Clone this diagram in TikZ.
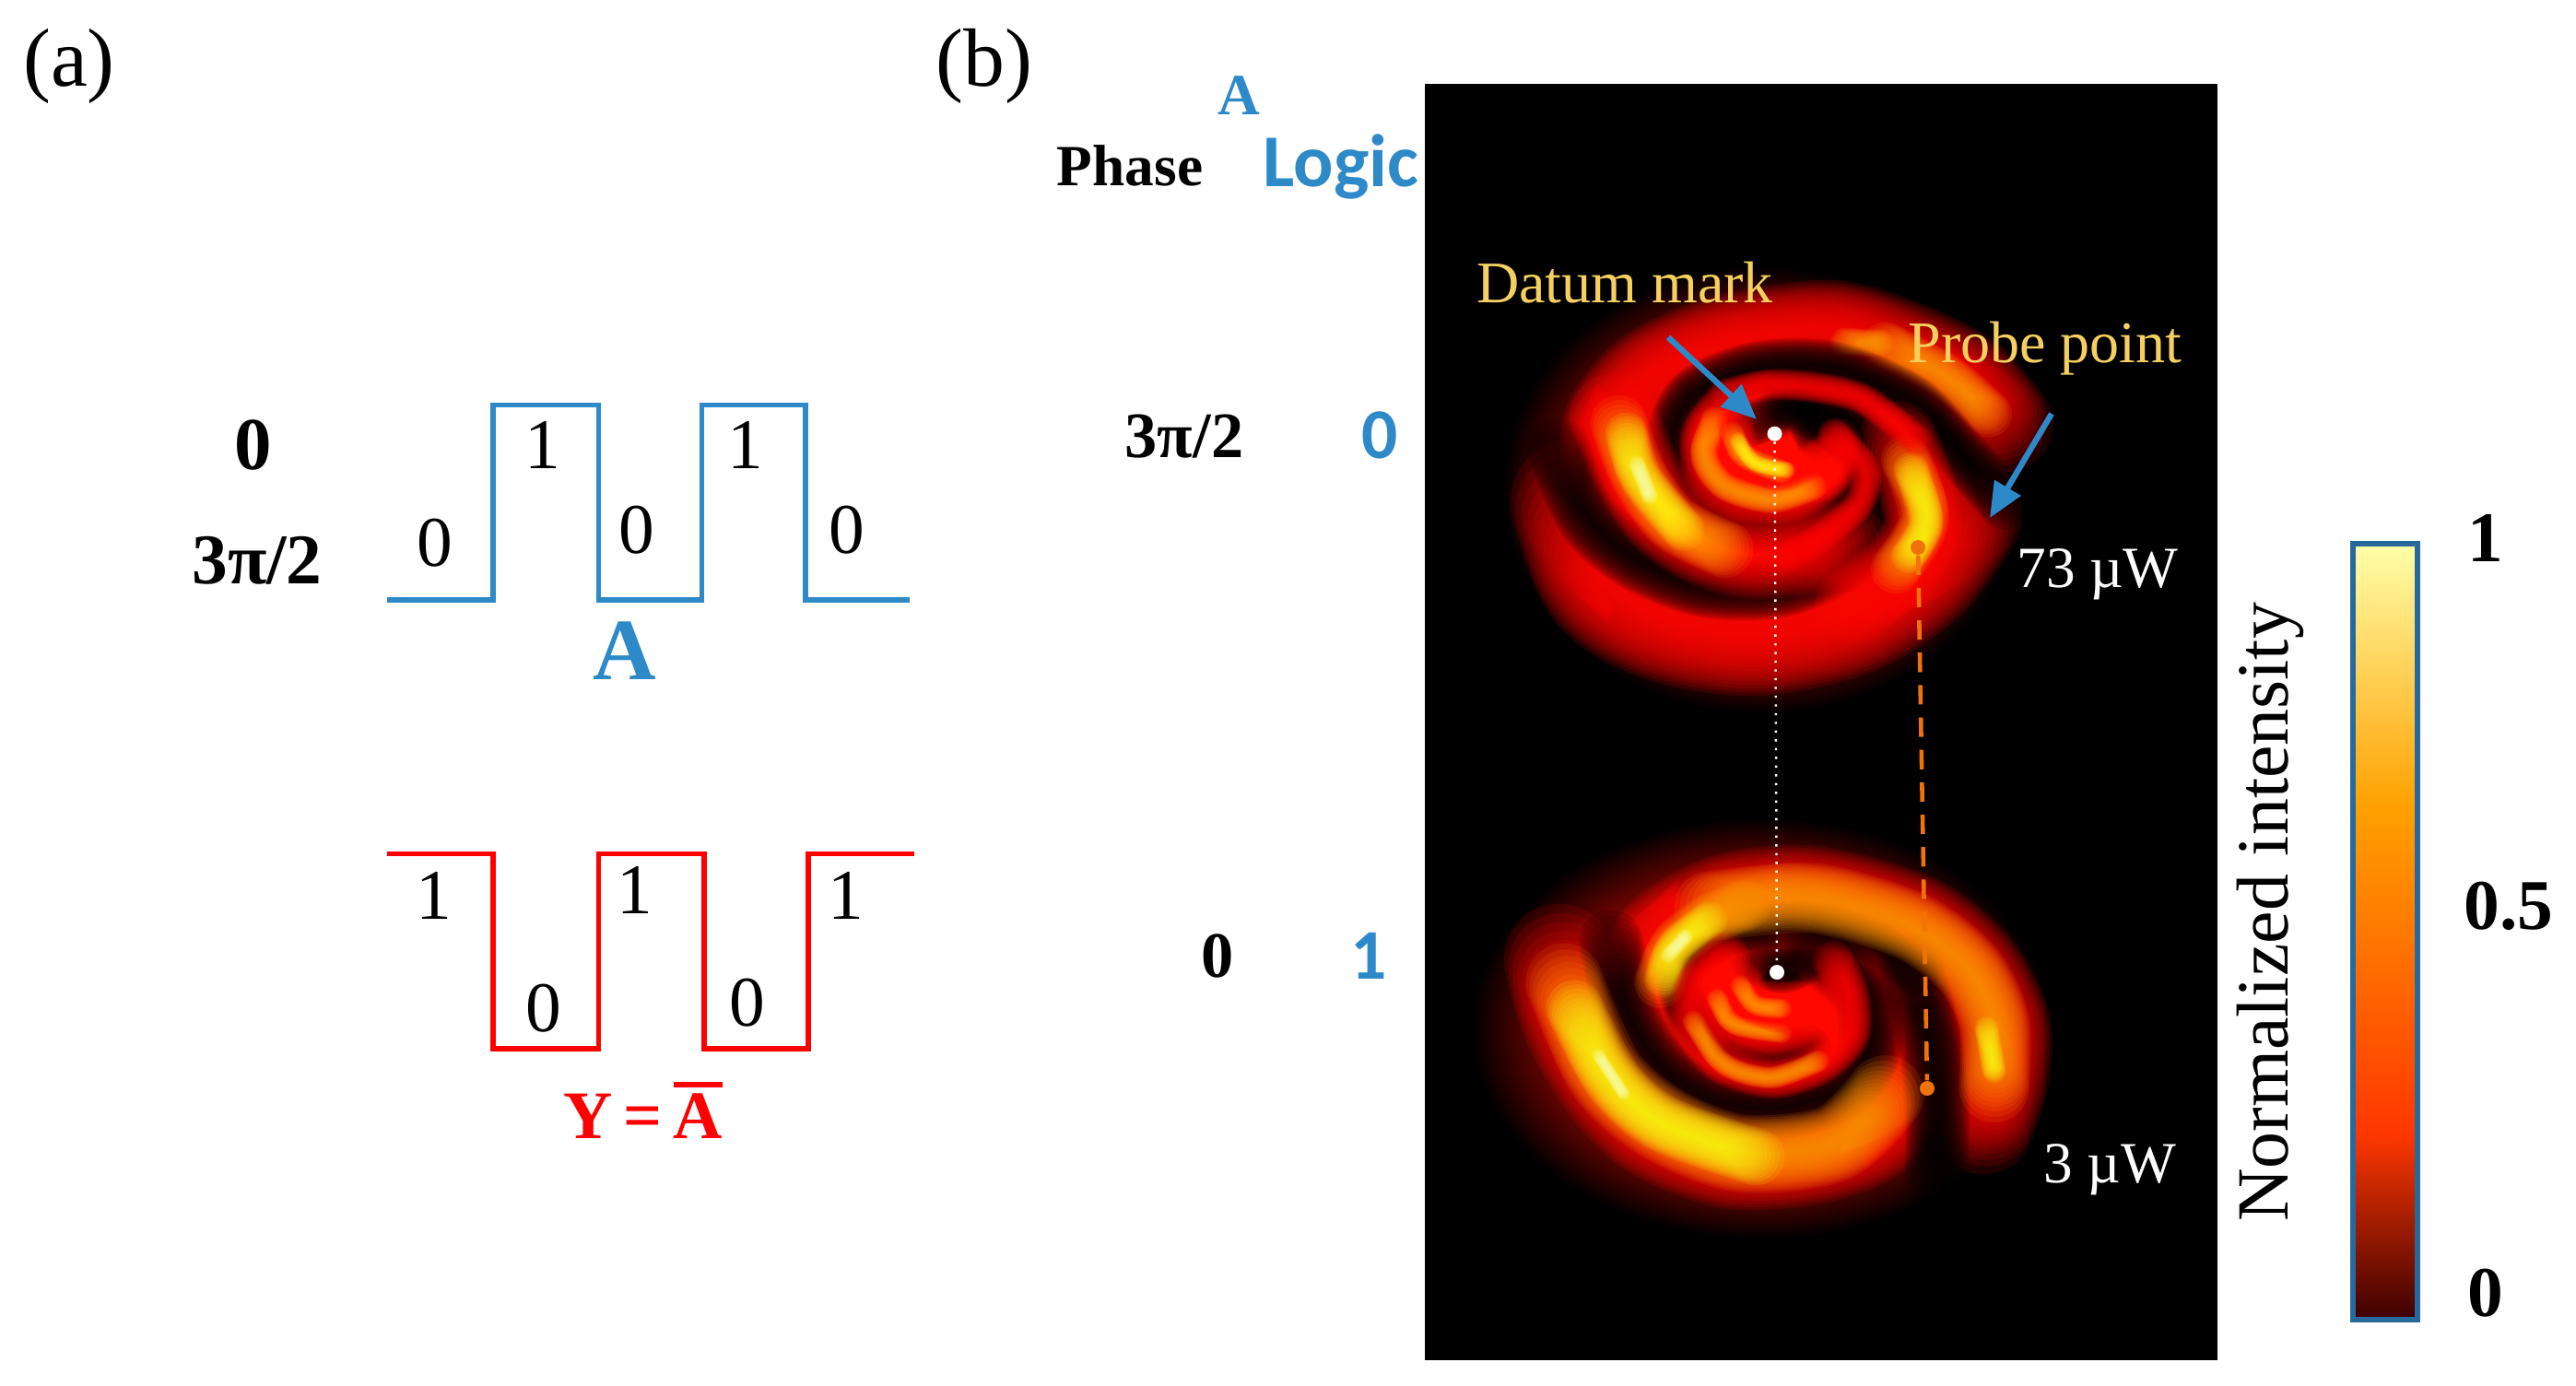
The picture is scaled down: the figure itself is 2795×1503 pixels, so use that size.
\documentclass[tikz,border=0pt]{standalone}
\usepackage{fontspec}
\setmainfont{Liberation Serif}
\newfontfamily\logicfont{Carlito}
\usetikzlibrary{arrows.meta, positioning}
\definecolor{logicblue}{RGB}{46,137,201}
\definecolor{barblue}{RGB}{40,105,155}
\definecolor{labelgold}{RGB}{245,208,96}
\definecolor{probeorange}{RGB}{240,115,10}
\definecolor{heatred}{RGB}{255,8,0}
\definecolor{heatorange}{RGB}{255,150,0}
\definecolor{heatyellow}{RGB}{255,245,20}
\definecolor{heatpale}{RGB}{255,255,170}
\definecolor{heatbase}{RGB}{60,0,0}
\definecolor{heatmid}{RGB}{255,55,0}
\definecolor{heatup}{RGB}{255,160,0}
\pgfdeclareverticalshading{heatbar}{100bp}{color(0bp)=(heatbase); color(25bp)=(heatbase); color(37bp)=(heatmid); color(58bp)=(heatup); color(75bp)=(heatpale); color(100bp)=(heatpale)}
\pgfdeclareradialshading{halo}{\pgfpoint{0bp}{0bp}}{color(0bp)=(heatred); color(10bp)=(heatred); color(25bp)=(black); color(50bp)=(black)}
% soft band: stacked see-through strokes, shorter as they get narrower
\newcommand{\glow}[3]{%
  \foreach \k in {1,...,18}{%
    \draw[#1, line width={(19-\k)/18*#2*0.2845pt}, opacity=0.12, line cap=round, line join=round,
      shorten <={(\k-1)/18*#2*0.2845pt}, shorten >={(\k-1)/18*#2*0.2845pt}] plot[smooth] coordinates {#3};}}
\tikzset{
  panel/.style={inner sep=0pt, font=\fontsize{25.5}{28}\selectfont},
  level/.style={inner sep=0pt, font=\fontsize{22}{26}\selectfont},
  phase/.style={inner sep=0pt, font=\bfseries\fontsize{20}{24}\selectfont},
  logic/.style={inner sep=0pt, text=logicblue, font=\logicfont\bfseries\fontsize{22}{26}\selectfont},
  note/.style={inner sep=0pt, text=labelgold, font=\fontsize{18.2}{22}\selectfont},
  power/.style={inner sep=0pt, text=white, font=\fontsize{18}{22}\selectfont},
  ticklabel/.style={inner sep=0pt, font=\bfseries\fontsize{22}{26}\selectfont},
  dot/.style={circle, inner sep=0pt, minimum size=1.6mm},
  marker/.style={-{Triangle[length=3.8mm, width=3.2mm]}, logicblue, line width=1.8pt}
}
\begin{document}
\begin{tikzpicture}[x=0.01cm, y=-0.01cm]
  \useasboundingbox (0,0) rectangle (2795,1503);
  % (a) traces
  \node[panel] (labela) at (75,72) {(a)};
  \draw[logicblue, line width=1.5pt] (420,651) -- (535,651) -- (535,439.5) -- (649.5,439.5) -- (649.5,651) -- (761.5,651) -- (761.5,439.5) -- (874,439.5) -- (874,651) -- (987,651);
  \draw[red, line width=1.5pt] (420,926.5) -- (535,926.5) -- (535,1138) -- (649.5,1138) -- (649.5,926.5) -- (764,926.5) -- (764,1138) -- (877,1138) -- (877,926.5) -- (992,926.5);
  \node[level] (a0) at (472,589) {0};
  \node[level] (a1) at (589,483) {1};
  \node[level] (a2) at (691,575.5) {0};
  \node[level] (a3) at (809,483) {1};
  \node[level] (a4) at (919,575.5) {0};
  \node[level] (y0) at (471,972) {1};
  \node[level] (y1) at (590,1094) {0};
  \node[level] (y2) at (689,966) {1};
  \node[level] (y3) at (811,1088) {0};
  \node[level] (y4) at (918,972) {1};
  \node[inner sep=0pt, text=logicblue, font=\bfseries\fontsize{27}{30}\selectfont] (nameA) at (677.5,706) {A};
  \node[inner sep=0pt, text=red, font=\bfseries\fontsize{21}{24}\selectfont] (nameY) at (698,1205) {Y\hspace{0.16em}=\hspace{0.16em}\rlap{\raisebox{0.76em}{\rule{0.72em}{0.07em}}}A};
  \node[ticklabel, font=\bfseries\fontsize{23}{26}\selectfont] (phaseA) at (275,483) {0};
  \node[ticklabel] (phaseB) at (279,608) {3π/2};
  % (b) labels
  \node[panel] (labelb) at (1068,72) {(b)};
  \node[inner sep=0pt, text=logicblue, font=\bfseries\fontsize{18}{22}\selectfont] (headA) at (1344,104) {A};
  \node[inner sep=0pt, font=\bfseries\fontsize{18}{22}\selectfont] (headPhase) at (1226,180) {Phase};
  \node[logic, font=\logicfont\bfseries\fontsize{23}{26}\selectfont] (headLogic) at (1455,181) {Logic};
  \node[phase] (rowA) at (1285,474) {3π/2};
  \node[logic] (logicA) at (1497,472) {0};
  \node[phase] (rowB) at (1321,1037) {0};
  \node[logic] (logicB) at (1485,1037) {1};
  % Beam picture
  \fill[black] (1545.5,91) rectangle (2406,1476);
  % Upper spiral, 73 uW
  \begin{scope}[shift={(1540,260)}, x=0.00561cm, y=-0.00357cm]
    \shade[shading=halo] (660,760) ellipse (500 and 680);
    \glow{heatred}{140}{(300,800) (360,1040) (480,1150) (650,1190) (830,1130) (960,1000) (1040,830)}
    \glow{heatred}{105}{(370,720) (370,560) (450,410) (600,310) (800,270) (950,340) (1060,430) (1130,560)}
    \glow{heatorange}{50}{(900,320) (1020,420) (1100,530)}
    \glow{heatorange}{30}{(820,310) (890,315)}
    % dark grooves
    \glow{black}{58}{(1130,800) (1040,640) (950,490) (800,390) (650,390) (530,470) (490,600) (520,740) (600,850) (720,880) (810,840) (860,750) (860,650) (800,560)}
    \glow{black}{70}{(270,640) (330,850) (420,970) (550,1050) (700,1050) (840,950) (910,790) (880,640) (800,540) (720,480)}
    \glow{black}{50}{(640,560) (730,520) (770,600)}
    % bright arms
    \glow{heatred}{95}{(375,540) (420,700) (470,830) (550,920) (650,960) (820,930)}
    \glow{heatorange}{62}{(385,560) (425,720) (490,860) (590,940)}
    \glow{heatyellow}{46}{(400,590) (430,730) (510,880)}
    \glow{heatpale}{18}{(420,680) (445,780)}
    \glow{heatred}{85}{(925,610) (960,750) (970,880) (930,1000) (840,1110)}
    \glow{heatorange}{54}{(940,670) (975,850) (920,1000)}
    \glow{heatyellow}{38}{(950,700) (978,860) (945,960)}
    \glow{heatred}{34}{(590,470) (700,440) (850,480) (960,610)}
    \glow{heatred}{34}{(800,590) (860,700) (850,800) (780,900) (700,970)}
    % inner rings
    \glow{heatred}{48}{(590,500) (545,600) (555,720) (620,790) (720,790) (800,700) (810,610)}
    \glow{heatorange}{30}{(570,550) (550,660) (590,750) (680,790) (760,750)}
    \glow{heatred}{40}{(610,560) (630,660) (700,710) (780,650)}
    \glow{heatorange}{26}{(605,590) (630,660) (700,705)}
    \glow{heatyellow}{18}{(615,610) (650,680) (710,700)}
  \end{scope}
  % Lower spiral, 3 uW
  \begin{scope}[shift={(1540,880)}, x=0.00561cm, y=-0.00357cm]
    \shade[shading=halo] (660,660) ellipse (560 and 640);
    \glow{heatred}{120}{(270,450) (300,620) (365,800) (455,950) (600,1040) (750,1030) (870,960) (925,780)}
    \glow{heatred}{110}{(440,500) (480,380) (600,280) (760,260) (950,340) (1060,470) (1120,640) (1120,800) (1090,950)}
    % dark grooves
    \glow{black}{70}{(370,400) (405,620) (470,780) (570,880) (700,900) (820,840) (870,720) (860,560) (780,440)}
    \glow{black}{50}{(960,500) (870,390) (740,340) (600,370) (510,470) (510,580) (560,690) (650,740) (750,720)}
    \glow{black}{70}{(950,470) (985,700) (1000,900) (1000,1120)}
    \glow{black}{60}{(650,440) (700,470) (750,440)}
    % bright arms
    \glow{heatorange}{76}{(560,290) (760,265) (950,350) (1060,480) (1110,640) (1110,840)}
    \glow{heatyellow}{26}{(1095,660) (1110,790)}
    \glow{heatorange}{84}{(280,520) (360,800) (470,950) (620,1040) (800,1010) (900,860)}
    \glow{heatyellow}{62}{(300,600) (375,820) (470,950) (650,1050)}
    \glow{heatpale}{14}{(345,740) (395,860)}
    \glow{heatorange}{56}{(465,520) (495,410) (560,330) (630,285)}
    \glow{heatyellow}{40}{(470,510) (495,410) (560,330)}
    \glow{heatpale}{16}{(480,440) (515,380)}
    % inner rings
    \glow{heatred}{46}{(590,430) (530,540) (530,650) (580,760) (680,810) (770,770) (830,680) (830,560) (800,460)}
    \glow{heatorange}{24}{(530,640) (590,770) (680,810) (770,760)}
    \glow{heatred}{46}{(600,450) (570,560) (600,660) (680,690) (750,650) (780,560)}
    \glow{heatorange}{22}{(575,570) (610,650) (700,675)}
    \glow{heatred}{44}{(625,520) (650,590) (710,620)}
    \glow{heatorange}{22}{(620,530) (650,590) (700,600)}
  \end{scope}
  % Marks on the picture
  \node[dot, fill=white] (datumA) at (1925.5,470.7) {};
  \node[dot, fill=white] (datumB) at (1928,1055) {};
  \node[dot, fill=probeorange] (probeA) at (2081,594) {};
  \node[dot, fill=probeorange] (probeB) at (2091,1181) {};
  \draw[white, line width=0.7pt, dotted] (datumA) -- (datumB);
  \draw[probeorange, line width=1.3pt, dash pattern=on 6pt off 4pt] (probeA) -- (probeB);
  \coordinate (datumtail) at (1810,366);
  \coordinate (datumtip) at (1906,455);
  \coordinate (probetail) at (2226,449);
  \coordinate (probetip) at (2159,562);
  \draw[marker] (datumtail) -- (datumtip);
  \draw[marker] (probetail) -- (probetip);
  \node[note] (datum) at (1763,307) {Datum mark};
  \node[note] (probe) at (2219,378) {Probe point};
  \node[power] (powerA) at (2276,623) {73 µW};
  \node[power] (powerB) at (2289,1269) {3 µW};
  % Colour bar
  \shade[shading=heatbar, draw=barblue, line width=1.5pt] (2553,590) rectangle (2623,1432);
  \node[inner sep=0pt, rotate=90, font=\fontsize{22.7}{26}\selectfont] (barname) at (2463,990) {Normalized intensity};
  \node[ticklabel] (bartop) at (2697,584) {1};
  \node[ticklabel] (barmid) at (2722,983) {0.5};
  \node[ticklabel] (barlow) at (2697,1403) {0};
\end{tikzpicture}
\end{document}
